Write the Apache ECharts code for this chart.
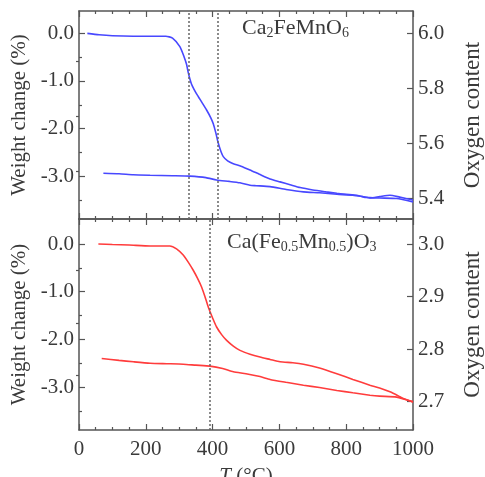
<!DOCTYPE html>
<html>
<head>
<meta charset="utf-8">
<script src="https://cdn.jsdelivr.net/npm/echarts@6/dist/echarts.min.js"></script>
<style>
  html, body { margin: 0; padding: 0; background: #fff; }
  #chart { width: 485px; height: 477px; }
</style>
</head>
<body>
<div id="chart"></div>
<script>
// temperature ticks (°C)
var tempTicks = [0, 200, 400, 600, 800, 1000];
// weight change ticks (%)
var weightTicks = [0, -1, -2, -3];
var weightMinor = [-0.5, -1.5, -2.5, -3.5];
// oxygen content ticks
var oxyTopTicks = [5.4, 5.6, 5.8, 6.0];
var oxyTopMinor = [5.5, 5.7, 5.9];
var oxyBotTicks = [2.7, 2.8, 2.9, 3.0];
var oxyBotMinor = [2.75, 2.85, 2.95];

// Ca2FeMnO6, heating then cooling [T, weight %]
var feMnHeat = [[25,0.0],[60,-0.03],[100,-0.05],[162,-0.06],[213,-0.06],[260,-0.06],[280,-0.1],[302,-0.28],[315,-0.5],[322,-0.65],[327,-0.82],[332,-0.96],[337,-1.07],[344,-1.17],[352,-1.27],[367,-1.44],[382,-1.61],[395,-1.78],[402,-1.9],[410,-2.1],[417,-2.31],[425,-2.48],[432,-2.59],[445,-2.68],[462,-2.74],[485,-2.79],[512,-2.87],[540,-2.96],[572,-3.06],[602,-3.12],[632,-3.18],[662,-3.24],[700,-3.29],[740,-3.33],[772,-3.36],[800,-3.38],[832,-3.40],[860,-3.45],[871,-3.46],[900,-3.43],[931,-3.40],[960,-3.44],[1000,-3.50]];
var feMnCool = [[1000,-3.54],[951,-3.47],[900,-3.46],[871,-3.45],[820,-3.40],[772,-3.38],[720,-3.35],[672,-3.33],[620,-3.28],[572,-3.22],[530,-3.2],[512,-3.19],[482,-3.14],[450,-3.11],[412,-3.08],[380,-3.03],[332,-3.0],[280,-2.99],[213,-2.98],[162,-2.97],[120,-2.95],[73,-2.94]];
var feMnMarks = [329, 414];

// Ca(Fe0.5Mn0.5)O3, heating then cooling [T, weight %]
var solidHeat = [[58,0.0],[100,-0.01],[150,-0.02],[213,-0.04],[272,-0.04],[292,-0.1],[312,-0.23],[327,-0.38],[342,-0.55],[355,-0.72],[367,-0.9],[377,-1.1],[387,-1.32],[400,-1.55],[412,-1.74],[427,-1.9],[442,-2.02],[462,-2.14],[482,-2.23],[512,-2.31],[542,-2.37],[572,-2.42],[602,-2.47],[640,-2.49],[672,-2.52],[720,-2.6],[772,-2.72],[820,-2.84],[871,-2.96],[900,-3.02],[931,-3.1],[955,-3.18],[971,-3.24],[1000,-3.31]];
var solidCool = [[1000,-3.31],[951,-3.21],[900,-3.19],[871,-3.17],[820,-3.12],[772,-3.07],[720,-3.01],[672,-2.96],[620,-2.9],[572,-2.84],[542,-2.78],[500,-2.72],[462,-2.68],[430,-2.61],[392,-2.56],[350,-2.54],[312,-2.52],[263,-2.51],[213,-2.5],[163,-2.47],[120,-2.44],[68,-2.4]];
var solidMarks = [390];

var FONT = 'Liberation Serif';
var TXT = '#3a3a3a';
var LINE = '#555';

function xAx(grid, pos, labels) {
  return {
    type: 'value', gridIndex: grid, position: pos,
    min: tempTicks[0], max: tempTicks[tempTicks.length - 1], interval: 200,
    axisLine: { onZero: false, lineStyle: { color: LINE, width: 1.5 } },
    axisTick: { inside: true, length: 6, lineStyle: { color: LINE, width: 1.2 } },
    minorTick: { show: true, splitNumber: 4, length: 3, lineStyle: { color: LINE, width: 1.2 } },
    splitLine: { show: false },
    axisLabel: { show: labels, margin: 9, color: TXT, fontFamily: FONT, fontSize: 21,
      formatter: function (v) { return String(v); } },
    name: labels ? '{i|T} (°C)' : '', nameLocation: 'middle', nameGap: 36,
    nameTextStyle: { color: TXT, fontFamily: FONT, fontSize: 21,
      rich: { i: { fontStyle: 'italic', fontFamily: FONT, fontSize: 21, color: TXT } } }
  };
}

function yAx(grid, pos, min, max, ticks, name, gap, nameSize) {
  return {
    type: 'value', gridIndex: grid, position: pos, min: min, max: max,
    axisLine: { show: true, onZero: false, lineStyle: { color: LINE, width: 1.5 } },
    axisTick: { inside: true, length: 6, customValues: ticks, lineStyle: { color: LINE, width: 1.2 } },
    splitLine: { show: false },
    axisLabel: { customValues: ticks, margin: 5, color: TXT, fontFamily: FONT, fontSize: 21,
      formatter: function (v) { return v.toFixed(1); } },
    name: name, nameLocation: 'middle', nameGap: gap, nameRotate: 90,
    nameTextStyle: { color: TXT, fontFamily: FONT, fontSize: nameSize }
  };
}

function yMinor(grid, pos, min, max, ticks) {
  return {
    type: 'value', gridIndex: grid, position: pos, min: min, max: max,
    axisLine: { show: false },
    axisTick: { inside: true, length: 3, customValues: ticks, lineStyle: { color: LINE, width: 1.2 } },
    splitLine: { show: false },
    axisLabel: { show: false }
  };
}

function marks(vals) {
  return {
    silent: true, symbol: 'none', animation: false,
    label: { show: false },
    lineStyle: { color: '#666', type: [2, 2], width: 1.5 },
    data: vals.map(function (v) { return { xAxis: v }; })
  };
}

function curve(data, color, xi, yi, ml) {
  var s = {
    type: 'line', data: data, xAxisIndex: xi, yAxisIndex: yi,
    showSymbol: false, smooth: 0.2, silent: true,
    lineStyle: { color: color, width: 1.6 }
  };
  if (ml) s.markLine = ml;
  return s;
}

var BLUE = '#4848ff', RED = '#ff3c3c';
var subStyle = { fontSize: 14, fontFamily: FONT, fill: TXT, padding: [10, 0, 0, 0] };

var chart = echarts.init(document.getElementById('chart'));
chart.setOption({
  animation: false,
  backgroundColor: '#fff',
  grid: [
    { left: 79, right: 72, top: 11, height: 208, outerBoundsMode: 'none' },
    { left: 79, right: 72, top: 219, height: 211, outerBoundsMode: 'none' }
  ],
  xAxis: [xAx(0, 'bottom', false), xAx(0, 'top', false), xAx(1, 'bottom', true), xAx(1, 'top', false)],
  yAxis: [
    yAx(0, 'left', -3.9, 0.47, weightTicks, 'Weight change (%)', 41, 21),
    yMinor(0, 'left', -3.9, 0.47, weightMinor),
    yAx(0, 'right', 5.325, 6.0814, oxyTopTicks, 'Oxygen content', 48, 23),
    yMinor(0, 'right', 5.325, 6.0814, oxyTopMinor),
    yAx(1, 'left', -3.9, 0.525, weightTicks, 'Weight change (%)', 41, 21),
    yMinor(1, 'left', -3.9, 0.525, weightMinor),
    yAx(1, 'right', 2.646, 3.0476, oxyBotTicks, 'Oxygen content', 48, 23),
    yMinor(1, 'right', 2.646, 3.0476, oxyBotMinor)
  ],
  graphic: [
    { type: 'text', left: 242, top: 17, style: {
      text: 'Ca{s|2}FeMnO{s|6}', fill: TXT, font: '22px "Liberation Serif"',
      rich: { s: subStyle } } },
    { type: 'text', left: 227, top: 231, style: {
      text: 'Ca(Fe{s|0.5}Mn{s|0.5})O{s|3}', fill: TXT, font: '22px "Liberation Serif"',
      rich: { s: subStyle } } }
  ],
  series: [
    curve(feMnHeat, BLUE, 0, 0, marks(feMnMarks)),
    curve(feMnCool, BLUE, 0, 0),
    curve(solidHeat, RED, 2, 4, marks(solidMarks)),
    curve(solidCool, RED, 2, 4)
  ]
});
</script>
</body>
</html>
